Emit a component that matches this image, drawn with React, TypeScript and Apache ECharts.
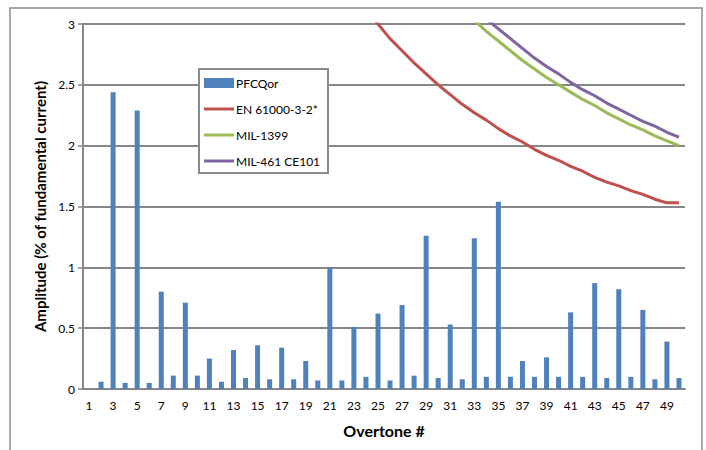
import React, { useEffect, useRef } from "react";
import * as echarts from "echarts";

const overtones: string[] = Array.from({ length: 50 }, (_, i) => String(i + 1));

const pfcqor: (number | null)[] = [
  0, 0.06, 2.44, 0.05, 2.29, 0.05, 0.8, 0.11, 0.71, 0.11,
  0.25, 0.06, 0.32, 0.09, 0.36, 0.08, 0.34, 0.08, 0.23, 0.07,
  1.0, 0.07, 0.51, 0.1, 0.62, 0.07, 0.69, 0.11, 1.26, 0.09,
  0.53, 0.08, 1.24, 0.1, 1.54, 0.1, 0.23, 0.1, 0.26, 0.1,
  0.63, 0.1, 0.87, 0.09, 0.82, 0.1, 0.65, 0.08, 0.39, 0.09,
];

// limit curves, values from overtone 24 (EN) / 32 (MIL-1399) / 33 (MIL-461) onward
const en61000: (number | null)[] = [
  ...Array(23).fill(null),
  3.13, 3.0, 2.88, 2.78, 2.68, 2.59, 2.5, 2.42, 2.34, 2.27,
  2.21, 2.14, 2.08, 2.03, 1.97, 1.92, 1.88, 1.83, 1.79, 1.74,
  1.7, 1.67, 1.63, 1.6, 1.56, 1.53, 1.53,
];
const mil1399: (number | null)[] = [
  ...Array(31).fill(null),
  3.13, 3.03, 2.94, 2.86, 2.78, 2.7, 2.63, 2.56, 2.5, 2.44,
  2.38, 2.33, 2.27, 2.22, 2.17, 2.13, 2.08, 2.04, 2.0,
];
const mil461: (number | null)[] = [
  ...Array(32).fill(null),
  3.14, 3.04, 2.96, 2.88, 2.8, 2.72, 2.65, 2.59, 2.52, 2.46,
  2.41, 2.35, 2.3, 2.25, 2.2, 2.16, 2.11, 2.07,
];

const seriesNames = ["PFCQor", "EN 61000-3-2*", "MIL-1399", "MIL-461 CE101"];
const seriesColors = ["#4F81BD", "#C0504D", "#9BBB59", "#8064A2"];

const FONT = "Lato";
const GRID = "#878787";

export default function App() {
  const ref = useRef<HTMLDivElement>(null);
  useEffect(() => {
    document.body.style.margin = "0";
    if (!ref.current) return;
    const chart = echarts.init(ref.current, undefined, { renderer: "svg" });
    const legendTops = [77, 103, 129, 155];
    const legends = seriesNames.map((name, i) => ({
      orient: "vertical",
      left: 204,
      top: legendTops[i],
      itemWidth: 30,
      itemHeight: i === 0 ? 10 : 3,
      padding: 0,
      z: 6,
      icon: "rect",
      textStyle: { fontFamily: FONT, fontSize: 12, color: "#000", padding: [0, 0, 0, -3] },
      data: [name],
    }));
    chart.setOption({
      animation: false,
      textStyle: { fontFamily: FONT },
      graphic: [
        {
          type: "rect",
          shape: { x: 10, y: 8, width: 692, height: 460 },
          style: { fill: "none", stroke: "#8c8c8c", lineWidth: 1.5 },
          z: 0,
        },
        {
          type: "rect",
          shape: { x: 199, y: 69, width: 129, height: 104 },
          style: { fill: "#ffffff", stroke: "#8a8a8a", lineWidth: 2 },
          z: 5,
        },
      ],
      grid: { left: 83, right: 21, top: 24, bottom: 61 },
      legend: legends,
      xAxis: {
        type: "category",
        data: overtones,
        boundaryGap: true,
        name: "Overtone #",
        nameLocation: "middle",
        nameGap: 33,
        nameTextStyle: { fontFamily: FONT, fontSize: 16, fontWeight: "bold", color: "#000" },
        axisLine: { lineStyle: { color: GRID, width: 2 } },
        axisTick: { interval: 0, alignWithLabel: false, length: 5, lineStyle: { color: GRID, width: 1.5 } },
        axisLabel: { interval: 1, fontFamily: FONT, fontSize: 12, color: "#000", margin: 10 },
        splitLine: { show: false },
      },
      yAxis: {
        type: "value",
        min: 0,
        max: 3,
        interval: 0.5,
        name: "Amplitude (% of fundamental current)",
        nameLocation: "middle",
        nameGap: 36,
        nameTextStyle: { fontFamily: FONT, fontSize: 15, fontWeight: "bold", color: "#000" },
        axisLine: { show: true, lineStyle: { color: GRID, width: 2 } },
        axisTick: { show: true, length: 5, lineStyle: { color: GRID, width: 1.5 } },
        axisLabel: { fontFamily: FONT, fontSize: 12, color: "#000", margin: 8 },
        splitLine: { show: true, lineStyle: { color: GRID, width: 2 } },
      },
      series: [
        {
          name: seriesNames[0],
          type: "bar",
          data: pfcqor,
          barWidth: 5,
          itemStyle: { color: seriesColors[0] },
          z: 2,
        },
        {
          name: seriesNames[1],
          type: "line",
          data: en61000,
          symbol: "none",
          clip: true,
          lineStyle: { color: seriesColors[1], width: 3 },
          itemStyle: { color: seriesColors[1] },
          z: 3,
        },
        {
          name: seriesNames[2],
          type: "line",
          data: mil1399,
          symbol: "none",
          clip: true,
          lineStyle: { color: seriesColors[2], width: 3 },
          itemStyle: { color: seriesColors[2] },
          z: 3,
        },
        {
          name: seriesNames[3],
          type: "line",
          data: mil461,
          symbol: "none",
          clip: true,
          lineStyle: { color: seriesColors[3], width: 3 },
          itemStyle: { color: seriesColors[3] },
          z: 3,
        },
      ],
    });
    return () => chart.dispose();
  }, []);
  return <div ref={ref} style={{ width: 706, height: 450 }} />;
}
